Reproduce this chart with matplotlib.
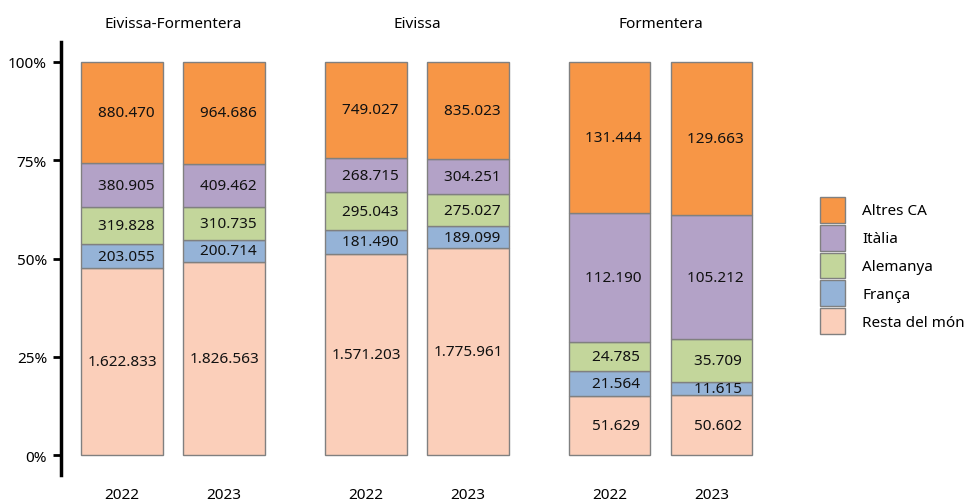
import numpy as np
import matplotlib.pyplot as plt

plt.rcParams['font.family'] = ['Noto Sans', 'DejaVu Sans']

groups = ['Eivissa-Formentera', 'Eivissa', 'Formentera']
years = ['2022', '2023']
# stacking order, bottom to top
categories = ['Resta del món', 'França', 'Alemanya', 'Itàlia', 'Altres CA']
colors = ['#FBCFBA', '#95B3D7', '#C3D69B', '#B3A2C7', '#F79646']

# values[group][year] -> bottom to top
resta = [[1622833, 1826563], [1571203, 1775961], [51629, 50602]]
franca = [[203055, 200714], [181490, 189099], [21564, 11615]]
alemanya = [[319828, 310735], [295043, 275027], [24785, 35709]]
italia = [[380905, 409462], [268715, 304251], [112190, 105212]]
altres = [[880470, 964686], [749027, 835023], [131444, 129663]]

series = np.array([resta, franca, alemanya, italia, altres], dtype=float)
series = series.reshape(len(categories), -1)  # 5 x 6 bars
totals = series.sum(axis=0)
shares = series / totals

group_offset = [0.0, 2.39, 4.78]
xpos = np.array([g + i for g in group_offset for i in range(len(years))])

def fmt(v):
    s = f"{int(v):,}".replace(',', '.')
    return s.rjust(9)

FS = 11

fig = plt.figure(figsize=(9.65, 5.02), dpi=100)
ax = fig.add_axes([61 / 965, 26 / 502, (780 - 61) / 965, 433 / 502])

bottom = np.zeros(len(xpos))
handles = []
for k, cat in enumerate(categories):
    bars = ax.bar(xpos, shares[k], 0.8, bottom=bottom, color=colors[k],
                  edgecolor='#808080', linewidth=1, label=cat)
    handles.append(bars)
    for j, x in enumerate(xpos):
        ax.text(x, bottom[j] + shares[k][j] / 2, fmt(series[k][j]),
                ha='center', va='center', fontsize=FS, color='#111111')
    bottom += shares[k]

for g, name in zip(group_offset, groups):
    ax.text(g + 0.5, 1.098, name, ha='center', va='center', fontsize=FS,
            clip_on=False)

ax.set_xlim(-0.6, 6.45)
ax.set_ylim(-0.05, 1.05)
ax.set_xticks(xpos)
ax.set_xticklabels(years * len(groups), fontsize=FS)
ax.tick_params(axis='x', length=0, pad=9)
ax.set_yticks([0, 0.25, 0.5, 0.75, 1.0])
ax.set_yticklabels(['0%', '25%', '50%', '75%', '100%'], fontsize=FS)
ax.tick_params(axis='y', length=6, width=2, pad=4)
for side in ['top', 'right', 'bottom']:
    ax.spines[side].set_visible(False)
ax.spines['left'].set_linewidth(2.5)

fig.legend(handles[::-1], categories[::-1], loc='center left',
           bbox_to_anchor=(820 / 965, 1 - 266.5 / 502), frameon=False,
           fontsize=FS, handlelength=1.65, handleheight=2.24,
           labelspacing=0.13, handletextpad=1.12, borderpad=0, borderaxespad=0)

fig.savefig('out.png', dpi=100)
